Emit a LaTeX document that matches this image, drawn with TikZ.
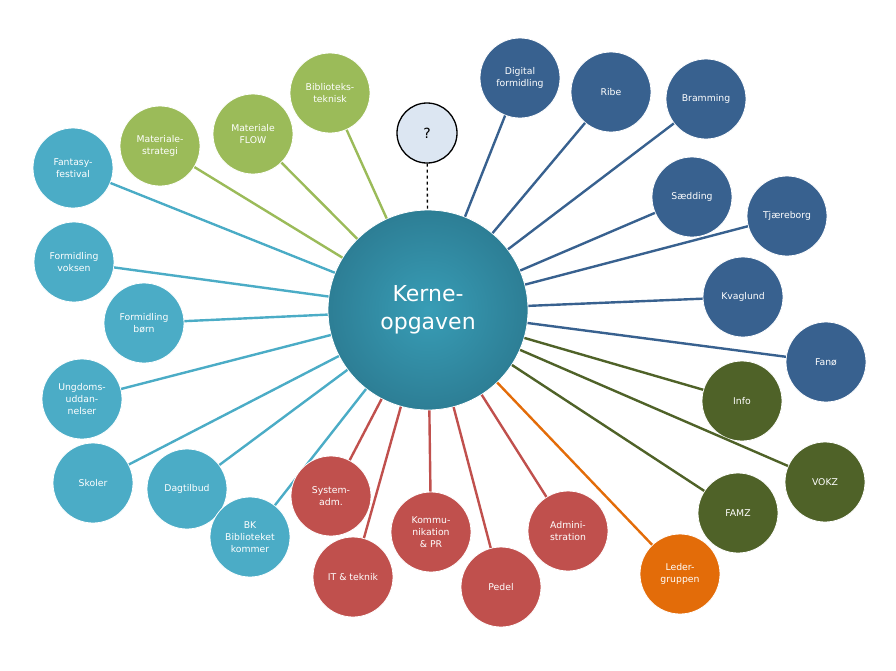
\documentclass[tikz,border=0pt]{standalone}
\usepackage{fontspec}
\setmainfont{DejaVu Sans}
\usetikzlibrary{calc}

\definecolor{kerneA}{HTML}{389DB6}
\definecolor{kerneB}{HTML}{2D7E95}
\definecolor{tealsat}{HTML}{4BACC6}
\definecolor{lgreen}{HTML}{9BBB59}
\definecolor{dblue}{HTML}{38618F}
\definecolor{dgreen}{HTML}{4F6228}
\definecolor{redsat}{HTML}{C0504D}
\definecolor{orangesat}{HTML}{E36C09}
\definecolor{qfill}{HTML}{DCE6F2}

\tikzset{
  sat/.style={circle, draw=white, line width=0.8pt, minimum size=80pt, inner sep=0pt,
    text=white, align=center, font=\fontsize{9.3}{12}\selectfont},
  link/.style={line width=2.4pt},
}

\begin{document}
\begin{tikzpicture}[x=1pt,y=-1pt]
\useasboundingbox (0,0) rectangle (896,670);
\node[circle, draw=white, line width=0.8pt, inner color=kerneA, outer color=kerneB, minimum size=200pt, inner sep=0pt,
  text=white, align=center, font=\fontsize{22}{28}\selectfont] (K) at (428,310) {Kerne-\\opgaven};

% question mark
\node[circle, draw=black, line width=1.3pt, fill=qfill, minimum size=60pt, inner sep=0pt,
  font=\fontsize{14}{16}\selectfont] (q) at (427,133) {?};
\draw[dashed, line width=1.3pt] (q) -- (K);

% teal group
\foreach \x/\y/\n/\t in {73/168/fant/{Fantasy-\\festival}, 74/262/fvok/{Formidling\\voksen},
  144/323/fborn/{Formidling\\børn}, 82/399/ungd/{Ungdoms-\\uddan-\\nelser}, 93/483/skol/Skoler,
  187/489/dagt/Dagtilbud, 250/537/bk/{BK\\Biblioteket\\kommer}} {
  \node[sat, fill=tealsat] (\n) at (\x,\y) {\t};
  \draw[link, tealsat] (\n) -- (K);
}

% light green group
\foreach \x/\y/\n/\t in {160/146/mstrat/{Materiale-\\strategi}, 253/134/mflow/{Materiale\\FLOW},
  330/93/btek/{Biblioteks-\\teknisk}} {
  \node[sat, fill=lgreen] (\n) at (\x,\y) {\t};
  \draw[link, lgreen] (\n) -- (K);
}

% dark blue group
\foreach \x/\y/\n/\t in {520/78/digi/{Digital\\formidling}, 611/92/ribe/Ribe, 706/99/bram/Bramming,
  692/197/saed/Sædding, 787/216/tjae/Tjæreborg, 743/297/kvag/Kvaglund, 826/362/fano/Fanø} {
  \node[sat, fill=dblue] (\n) at (\x,\y) {\t};
  \draw[link, dblue] (\n) -- (K);
}

% dark green group
\foreach \x/\y/\n/\t in {742/401/info/Info, 825/482/vokz/VOKZ, 738/513/famz/FAMZ} {
  \node[sat, fill=dgreen] (\n) at (\x,\y) {\t};
  \draw[link, dgreen] (\n) -- (K);
}

% red group
\foreach \x/\y/\n/\t in {331/496/sys/{System-\\adm.}, 353/577/itek/{IT \& teknik},
  431/532/komm/{Kommu-\\nikation\\\& PR}, 501/587/pedel/Pedel, 568/531/admin/{Admini-\\stration}} {
  \node[sat, fill=redsat] (\n) at (\x,\y) {\t};
  \draw[link, redsat] (\n) -- (K);
}

% leader
\node[sat, fill=orangesat] (leder) at (680,574) {Leder-\\gruppen};
\draw[link, orangesat] (leder) -- (K);
\end{tikzpicture}
\end{document}
